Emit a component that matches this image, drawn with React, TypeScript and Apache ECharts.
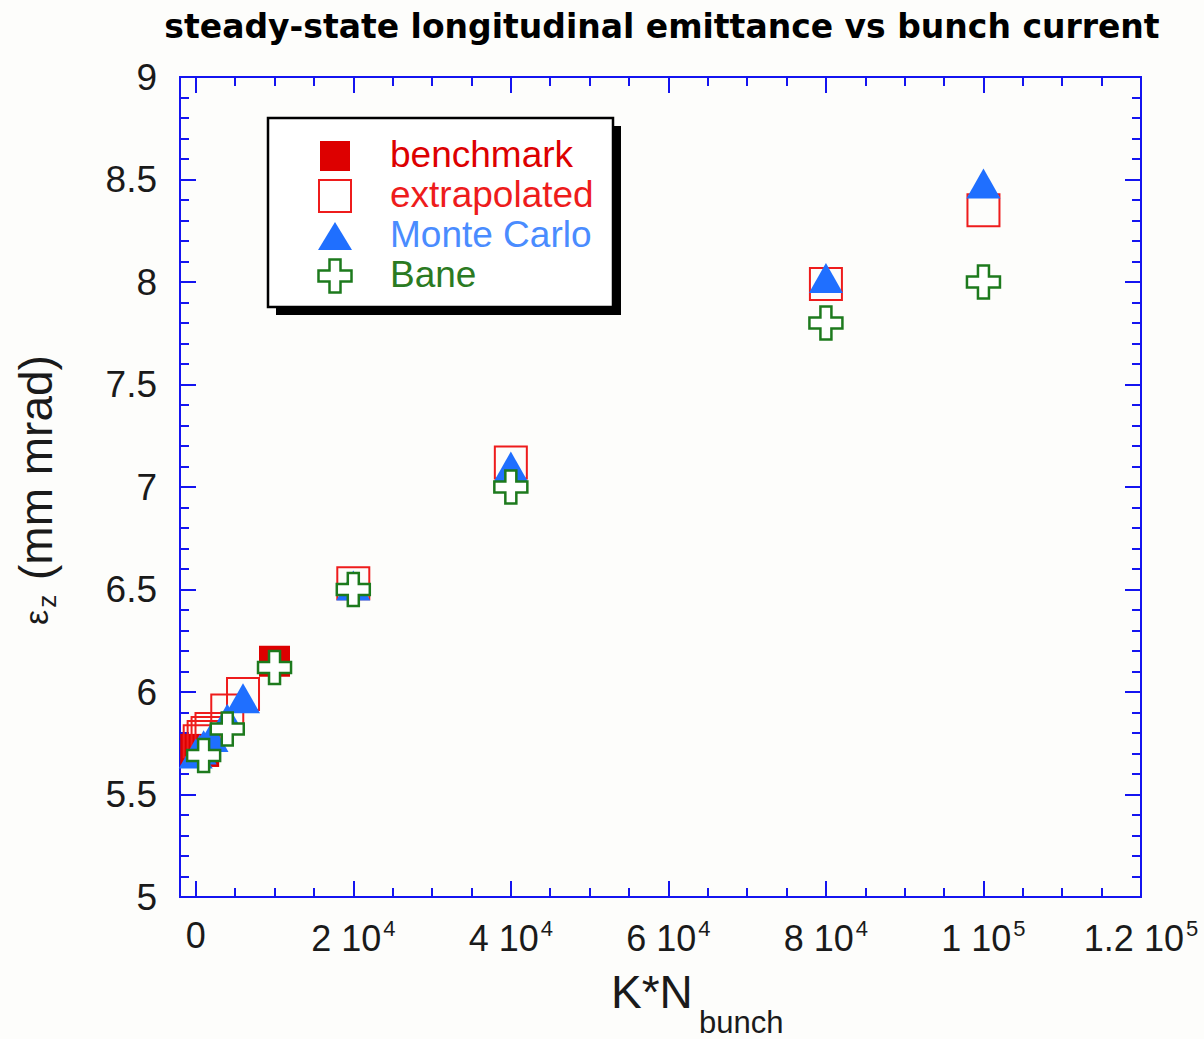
import React, { useEffect, useRef } from "react";
import * as echarts from "echarts";

// Series names, in legend order
const seriesNames = ["benchmark", "extrapolated", "Monte Carlo", "Bane"];

// K*N_bunch values and steady-state longitudinal emittance (mm mrad)
const benchmarkX = [0, 1000, 10000];
const benchmarkY = [5.72, 5.71, 6.15];

const extrapolatedX = [500, 1000, 1500, 2000, 4000, 6000, 20000, 40000, 80000, 100000];
const extrapolatedY = [5.76, 5.78, 5.8, 5.82, 5.91, 5.99, 6.53, 7.12, 7.99, 8.35];

const monteCarloX = [0, 500, 1000, 2000, 4000, 6000, 20000, 40000, 80000, 100000];
const monteCarloY = [5.7, 5.72, 5.74, 5.78, 5.87, 5.97, 6.52, 7.1, 8.02, 8.48];

const baneX = [1000, 4000, 10000, 20000, 40000, 80000, 100000];
const baneY = [5.69, 5.82, 6.12, 6.5, 7.0, 7.8, 8.0];

// x-axis tick positions and labels (mantissa + power of ten)
const xMajorTicks = [0, 20000, 40000, 60000, 80000, 100000, 120000];
const xLabelMantissa = ["0", "2 10", "4 10", "6 10", "8 10", "1 10", "1.2 10"];
const xLabelExponent = ["", "4", "4", "4", "4", "5", "5"];
const xMinorTicks = [
  5000, 10000, 15000, 25000, 30000, 35000, 45000, 50000, 55000, 65000, 70000, 75000,
  85000, 90000, 95000, 105000, 110000, 115000,
];

const AXIS = "#1414f0";
const FONT = "'Liberation Sans', Arial, sans-serif";
const RED = "#dd0000";
const RED_LINE = "#ee1c1c";
const BLUE = "#1f6fff";
const GREEN = "#1d7a1d";
const CROSS = "path://M1 0H2V1H3V2H2V3H1V2H0V1H1Z";

const zip = (xs: number[], ys: number[]) => xs.map((x, i) => [x, ys[i]]);

function crossPoints(cx: number, cy: number, s: number) {
  const a = s / 6;
  const h = s / 2;
  return [
    [cx - a, cy - h], [cx + a, cy - h], [cx + a, cy - a], [cx + h, cy - a],
    [cx + h, cy + a], [cx + a, cy + a], [cx + a, cy + h], [cx - a, cy + h],
    [cx - a, cy + a], [cx - h, cy + a], [cx - h, cy - a], [cx - a, cy - a],
  ];
}

export default function App() {
  const ref = useRef<HTMLDivElement>(null);

  useEffect(() => {
    if (!ref.current) return;
    const chart = echarts.init(ref.current, undefined, { renderer: "svg" });

    const axisLine = { show: true, onZero: false, lineStyle: { color: AXIS, width: 2 } };
    const tickStyle = { color: AXIS, width: 2 };

    const xBase = {
      type: "value",
      min: -2000,
      max: 120000,
      axisLine,
      splitLine: { show: false },
    };

    const xLabel = {
      customValues: xMajorTicks,
      margin: 20,
      formatter: (v: number) => {
        const i = xMajorTicks.indexOf(v);
        if (i < 0) return "";
        return xLabelExponent[i]
          ? `{m|${xLabelMantissa[i]}}{e|${xLabelExponent[i]}}`
          : `{m|${xLabelMantissa[i]}}`;
      },
      rich: {
        m: { fontSize: 36, fontFamily: FONT, color: "#1a1a1a" },
        e: { fontSize: 22, fontFamily: FONT, color: "#1a1a1a", padding: [0, 0, 20, 2] },
      },
    };

    const yBase = {
      type: "value",
      min: 5,
      max: 9,
      interval: 0.5,
      axisLine,
      axisTick: { show: true, inside: true, length: 16, lineStyle: tickStyle },
      minorTick: { show: true, splitNumber: 5, length: 9, lineStyle: tickStyle },
      splitLine: { show: false },
      minorSplitLine: { show: false },
    };

    const legendRows = [156, 196, 236, 276];
    const legendColors = [RED, RED_LINE, "#4a8cff", "#2b7a22"];
    const lx = 335;

    chart.setOption({
      animation: false,
      backgroundColor: "#fdfdfb",
      grid: { left: 180, right: 63, top: 77, bottom: 142, containLabel: false },
      xAxis: [
        {
          ...xBase,
          position: "bottom",
          axisTick: { show: true, inside: true, length: 16, customValues: xMajorTicks, lineStyle: tickStyle },
          axisLabel: xLabel,
        },
        {
          ...xBase,
          position: "bottom",
          axisTick: { show: true, inside: true, length: 9, customValues: xMinorTicks, lineStyle: tickStyle },
          axisLabel: { show: false },
        },
        {
          ...xBase,
          position: "top",
          axisTick: { show: true, inside: true, length: 16, customValues: xMajorTicks, lineStyle: tickStyle },
          axisLabel: { show: false },
        },
        {
          ...xBase,
          position: "top",
          axisTick: { show: true, inside: true, length: 9, customValues: xMinorTicks, lineStyle: tickStyle },
          axisLabel: { show: false },
        },
      ],
      yAxis: [
        {
          ...yBase,
          position: "left",
          axisLabel: { fontSize: 37, fontFamily: FONT, color: "#1a1a1a", margin: 23 },
        },
        { ...yBase, position: "right", axisLabel: { show: false } },
      ],
      series: [
        {
          type: "scatter",
          name: seriesNames[0],
          data: zip(benchmarkX, benchmarkY),
          symbol: "rect",
          symbolSize: 31,
          itemStyle: { color: RED, opacity: 1 },
          silent: true,
        },
        {
          type: "scatter",
          name: seriesNames[1],
          data: zip(extrapolatedX, extrapolatedY),
          symbol: "rect",
          symbolSize: 32,
          itemStyle: { color: "rgba(0,0,0,0)", borderColor: RED_LINE, borderWidth: 2, opacity: 1 },
          silent: true,
        },
        {
          type: "scatter",
          name: seriesNames[2],
          data: zip(monteCarloX, monteCarloY),
          symbol: "triangle",
          symbolSize: [34, 30],
          itemStyle: { color: BLUE, opacity: 1 },
          silent: true,
        },
        {
          type: "scatter",
          name: seriesNames[3],
          data: zip(baneX, baneY),
          symbol: CROSS,
          symbolSize: 33,
          itemStyle: { color: "#ffffff", borderColor: GREEN, borderWidth: 2.5, opacity: 1 },
          silent: true,
        },
      ],
      graphic: [
        // title
        {
          type: "text",
          x: 662,
          y: 26,
          style: {
            text: "steady-state longitudinal emittance vs bunch current",
            font: "bold 33px 'DejaVu Sans', Verdana, sans-serif",
            fill: "#000",
            align: "center",
            verticalAlign: "middle",
          },
        },
        // x axis name with subscript
        {
          type: "text",
          x: 611,
          y: 992,
          style: { text: "K*N", font: `46px ${FONT}`, fill: "#1a1a1a", align: "left", verticalAlign: "middle" },
        },
        {
          type: "text",
          x: 699,
          y: 1022,
          style: { text: "bunch", font: `31px ${FONT}`, fill: "#1a1a1a", align: "left", verticalAlign: "middle" },
        },
        // y axis name
        {
          type: "text",
          x: 36,
          y: 490,
          rotation: Math.PI / 2,
          style: {
            text: "{e|ε}{z|z}{t| (mm mrad)}",
            rich: {
              e: { fontSize: 34, fontFamily: FONT, fill: "#1a1a1a" },
              z: { fontSize: 26, fontFamily: FONT, fill: "#1a1a1a", padding: [22, 2, 0, 2] },
              t: { fontSize: 46, fontFamily: FONT, fill: "#1a1a1a" },
            },
            align: "center",
            verticalAlign: "middle",
          },
        },
        // legend box with drop shadow
        {
          type: "rect",
          shape: { x: 276, y: 126, width: 345, height: 189 },
          style: { fill: "#000" },
        },
        {
          type: "rect",
          shape: { x: 268, y: 118, width: 345, height: 189 },
          style: { fill: "#fff", stroke: "#000", lineWidth: 2.5 },
        },
        {
          type: "rect",
          shape: { x: lx - 15, y: legendRows[0] - 15, width: 30, height: 30 },
          style: { fill: RED },
        },
        {
          type: "rect",
          shape: { x: lx - 16, y: legendRows[1] - 16, width: 32, height: 32 },
          style: { fill: "none", stroke: RED_LINE, lineWidth: 2 },
        },
        {
          type: "polygon",
          shape: { points: [[lx, legendRows[2] - 14], [lx + 17, legendRows[2] + 14], [lx - 17, legendRows[2] + 14]] },
          style: { fill: BLUE },
        },
        {
          type: "polygon",
          shape: { points: crossPoints(lx, legendRows[3], 33) },
          style: { fill: "#fff", stroke: GREEN, lineWidth: 2.5 },
        },
        ...seriesNames.map((name, i) => ({
          type: "text",
          x: 390,
          y: legendRows[i] - 2,
          style: {
            text: name,
            font: `37px ${FONT}`,
            fill: legendColors[i],
            align: "left",
            verticalAlign: "middle",
          },
        })),
      ],
    });

    return () => chart.dispose();
  }, []);

  return (
    <div
      ref={ref}
      style={{ position: "absolute", left: 0, top: 0, width: 1204, height: 1039 }}
    />
  );
}
